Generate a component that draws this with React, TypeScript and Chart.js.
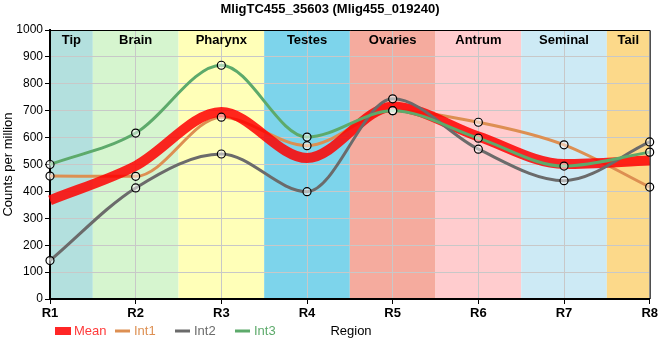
import React, { useEffect, useRef } from "react";
import { Chart, registerables } from "chart.js";

Chart.register(...registerables);

const categories = ["R1", "R2", "R3", "R4", "R5", "R6", "R7", "R8"];
const regions = ["Tip", "Brain", "Pharynx", "Testes", "Ovaries", "Antrum", "Seminal", "Tail"];
const regionColors = ["#B3E0DE", "#D6F5CF", "#FFFFB8", "#7DD4EB", "#F5AB9E", "#FFCCCE", "#CDEAF5", "#FCD98A"];

const meanValues = [367, 495, 695, 524, 715, 604, 502, 515];
const int1Values = [457, 456, 676, 570, 700, 657, 573, 416];
const int2Values = [143, 413, 539, 399, 744, 557, 440, 584];
const int3Values = [500, 617, 869, 602, 700, 598, 494, 546];

const yTicks = [0, 100, 200, 300, 400, 500, 600, 700, 800, 900, 1000];

const titleText = "MligTC455_35603 (Mlig455_019240)";
const yTitle = "Counts per million";
const xTitle = "Region";

const MEAN_COLOR = "rgba(255,0,0,0.85)";
const INT1_COLOR = "#DD8F52";
const INT2_COLOR = "#6B6B6B";
const INT3_COLOR = "#5DAA6B";
const FONT = "'Liberation Sans', Arial, sans-serif";

const legendItems = [
  { label: "Mean", color: MEAN_COLOR, text: "#FF3A3A", thick: true },
  { label: "Int1", color: INT1_COLOR, text: INT1_COLOR, thick: false },
  { label: "Int2", color: INT2_COLOR, text: INT2_COLOR, thick: false },
  { label: "Int3", color: INT3_COLOR, text: INT3_COLOR, thick: false },
];

const decorPlugin = {
  id: "decor",
  beforeDraw(chart: any) {
    const { ctx, chartArea, scales } = chart;
    const { top, bottom, left, right } = chartArea;
    const x = scales.x;
    ctx.save();
    regions.forEach((_, i) => {
      const x0 = Math.max(left, x.getPixelForValue(i - 0.5));
      const x1 = Math.min(right, x.getPixelForValue(i + 0.5));
      ctx.fillStyle = regionColors[i];
      ctx.fillRect(x0, top, x1 - x0, bottom - top);
    });
    ctx.restore();
  },
  afterDraw(chart: any) {
    const { ctx, chartArea, scales } = chart;
    const { top, bottom, left, right } = chartArea;
    const x = scales.x;
    ctx.save();
    ctx.font = `bold 13px ${FONT}`;
    ctx.fillStyle = "#000";
    ctx.textAlign = "center";
    ctx.textBaseline = "middle";
    regions.forEach((r, i) => {
      const x0 = Math.max(left, x.getPixelForValue(i - 0.5));
      const x1 = Math.min(right, x.getPixelForValue(i + 0.5));
      ctx.fillText(r, (x0 + x1) / 2, top + 10);
    });
    ctx.fillText(titleText, 330, 9);
    ctx.strokeStyle = "#000";
    ctx.lineWidth = 1;
    ctx.beginPath();
    ctx.moveTo(left, top + 0.5);
    ctx.lineTo(right + 0.5, top + 0.5);
    ctx.lineTo(right + 0.5, bottom);
    ctx.stroke();
    ctx.font = `13px ${FONT}`;
    ctx.textAlign = "left";
    const ly = 331;
    legendItems.forEach((it, i) => {
      const mx = 55 + i * 60;
      ctx.fillStyle = it.color;
      if (it.thick) ctx.fillRect(mx, ly - 4, 16, 8);
      else ctx.fillRect(mx, ly - 1.5, 15, 3);
      ctx.fillStyle = it.text;
      ctx.fillText(it.label, mx + 19, ly);
    });
    ctx.fillStyle = "#000";
    ctx.textAlign = "center";
    ctx.fillText(xTitle, 351, ly);
    ctx.restore();
  },
};

function lineDs(label: string, data: number[], color: string, width: number, order: number) {
  return {
    label,
    data,
    borderColor: color,
    backgroundColor: color,
    borderWidth: width,
    pointRadius: 0,
    pointHoverRadius: 0,
    cubicInterpolationMode: "monotone" as const,
    fill: false,
    order,
  };
}

function pointDs(label: string, data: number[]) {
  return {
    label,
    data,
    showLine: false,
    borderColor: "#000",
    backgroundColor: "rgba(255,255,255,0.5)",
    pointBorderColor: "#000",
    pointBackgroundColor: "rgba(255,255,255,0.5)",
    pointBorderWidth: 1.2,
    pointRadius: 4,
    order: -1,
  };
}

export default function App() {
  const ref = useRef<HTMLCanvasElement>(null);
  useEffect(() => {
    if (!ref.current) return;
    const chart = new Chart(ref.current, {
      type: "line",
      data: {
        labels: categories,
        datasets: [
          lineDs("Int1", int1Values, INT1_COLOR, 3, 4),
          lineDs("Mean", meanValues, MEAN_COLOR, 10, 3),
          lineDs("Int2", int2Values, INT2_COLOR, 3, 2),
          lineDs("Int3", int3Values, INT3_COLOR, 3, 1),
          pointDs("p1", int1Values),
          pointDs("p2", int2Values),
          pointDs("p3", int3Values),
        ] as any,
      },
      options: {
        animation: false,
        responsive: false,
        events: [],
        layout: { padding: { top: 30, left: 0, right: 10, bottom: 0 } },
        plugins: { legend: { display: false }, tooltip: { enabled: false }, title: { display: false } },
        scales: {
          x: {
            type: "category",
            offset: false,
            grid: { color: "#C8C8C8", lineWidth: 1, tickLength: 5, tickColor: "#000" },
            border: { color: "#000", width: 2 },
            ticks: { color: "#000", font: { family: FONT, size: 13, weight: "bold" }, padding: 2, maxRotation: 0, autoSkip: false },
            afterFit: (s: any) => { s.height = 61; },
          },
          y: {
            min: 0,
            max: 1000,
            afterBuildTicks: (s: any) => { s.ticks = yTicks.map((v) => ({ value: v })); },
            grid: { color: "#C8C8C8", lineWidth: 1, tickLength: 5, tickColor: "#000" },
            border: { color: "#000", width: 2 },
            ticks: { color: "#000", font: { family: FONT, size: 12 }, padding: 2, callback: (v: any) => String(v) },
            title: { display: true, text: yTitle, color: "#000", font: { family: FONT, size: 13 }, padding: { top: 1, bottom: 0 } },
            afterFit: (s: any) => { s.width = 50; },
          },
        },
      },
      plugins: [decorPlugin],
    });
    return () => chart.destroy();
  }, []);
  return (
    <div style={{ position: "fixed", left: 0, top: 0, width: 660, height: 360, background: "#fff" }}>
      <canvas ref={ref} width={660} height={360} style={{ display: "block" }} />
    </div>
  );
}
